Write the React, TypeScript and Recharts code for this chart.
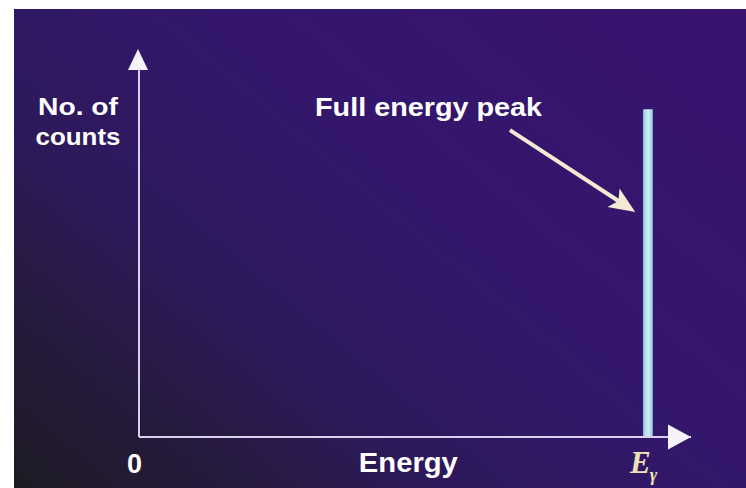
import React from 'react';
import { ComposedChart, Bar, XAxis, YAxis, ReferenceLine, ReferenceDot } from 'recharts';

// the spectrum: one full energy peak at E-gamma
const peakEnergy = [92.2];
const peakCounts = [84.5];
const energyRange = [0, 100];
const countRange = [0, 100];

// texts
const yTitle = ['No. of', 'counts'];
const xTitle = 'Energy';
const tickLabels = ['0', 'E', 'γ'];
const peakNote = 'Full energy peak';

const data = peakEnergy.map((e, i) => ({ energy: e, counts: peakCounts[i] }));

const W = 746;
const H = 488;
const sans = '"Liberation Sans", Arial, sans-serif';
const serif = '"Liberation Serif", "Times New Roman", serif';
const axisColor = '#d8d0ec';
const headColor = '#f5f2fc';
const cream = '#f3ead3';

const UpHead = ({ cx, cy }: any) => (
  <path d={`M${cx - 1},${cy} L${cx - 11},${cy + 21} L${cx + 9},${cy + 21} Z`} fill={headColor} />
);

const RightHead = ({ cx, cy }: any) => (
  <path d={`M${cx},${cy} L${cx - 23},${cy - 12.5} L${cx - 23},${cy + 12.5} Z`} fill={headColor} />
);

const Pointer = ({ x1, y1, x2, y2 }: any) => {
  const ang = Math.atan2(y2 - y1, x2 - x1);
  const len = 26;
  const half = 11;
  const bx = x2 - len * Math.cos(ang);
  const by = y2 - len * Math.sin(ang);
  const px = -Math.sin(ang) * half;
  const py = Math.cos(ang) * half;
  const nx = x2 - (len - 6) * Math.cos(ang);
  const ny = y2 - (len - 6) * Math.sin(ang);
  return (
    <g>
      <line x1={x1} y1={y1} x2={nx} y2={ny} stroke={cream} strokeWidth={4} />
      <path d={`M${x2},${y2} L${bx + px},${by + py} L${nx},${ny} L${bx - px},${by - py} Z`} fill={cream} />
    </g>
  );
};

const textShape = (value: string, size: number, width?: number, anchor: string = 'middle', fill: string = '#ffffff') =>
  (props: any) => (
    <text
      x={props.cx}
      y={props.cy}
      fill={fill}
      fontFamily={sans}
      fontWeight="bold"
      fontSize={size}
      textAnchor={anchor}
      textLength={width}
      lengthAdjust="spacingAndGlyphs"
    >
      {value}
    </text>
  );

const GammaTick = (props: any) => (
  <text x={props.cx} y={props.cy} fill="#efe1b6" fontFamily={serif} fontStyle="italic" fontWeight="bold" fontSize={31}>
    {tickLabels[1]}
    <tspan fontSize={18} dy={8} dx={-1}>{tickLabels[2]}</tspan>
  </text>
);

export default function App() {
  return (
    <div style={{ position: 'absolute', left: 0, top: 0, width: W, height: H, background: '#ffffff' }}>
      <div
        style={{
          position: 'absolute',
          left: 14,
          top: 9,
          width: W - 14,
          height: H - 9,
          background:
            'linear-gradient(40deg, #1d1b24 0%, #251a3a 15%, #2d195a 33%, #33176b 55%, #381370 100%)',
        }}
      />
      <div style={{ position: 'absolute', left: 0, top: 0 }}>
        <ComposedChart width={W} height={H} data={data} margin={{ top: 49, right: 55, bottom: 51, left: 139 }}>
          <defs>
            <linearGradient id="peakFill" x1="0" y1="0" x2="1" y2="0">
              <stop offset="0%" stopColor="#7aa8d2" />
              <stop offset="20%" stopColor="#b2dcec" />
              <stop offset="55%" stopColor="#cdeef4" />
              <stop offset="85%" stopColor="#aad6e8" />
              <stop offset="100%" stopColor="#7099c6" />
            </linearGradient>
          </defs>
          <XAxis dataKey="energy" type="number" domain={energyRange} hide />
          <YAxis type="number" domain={countRange} hide />

          <ReferenceLine
            segment={[{ x: 0, y: 0 }, { x: 100, y: 0 }]}
            stroke={axisColor}
            strokeWidth={2}
            ifOverflow="visible"
          />
          <ReferenceLine
            segment={[{ x: 0, y: 0 }, { x: 0, y: 96 }]}
            stroke={axisColor}
            strokeWidth={2}
            ifOverflow="visible"
          />

          <Bar dataKey="counts" barSize={10} fill="url(#peakFill)" isAnimationActive={false} />

          <ReferenceDot x={0} y={100} r={0} ifOverflow="visible" shape={UpHead} />
          <ReferenceDot x={100} y={0} r={0} ifOverflow="visible" shape={RightHead} />

          <ReferenceLine
            segment={[{ x: 67.2, y: 79.1 }, { x: 89.9, y: 58.0 }]}
            ifOverflow="visible"
            shape={Pointer}
          />

          <ReferenceDot x={52.45} y={82.7} r={0} ifOverflow="visible" shape={textShape(peakNote, 26, 227)} />
          <ReferenceDot x={-11.05} y={83.0} r={0} ifOverflow="visible" shape={textShape(yTitle[0], 24, 80)} />
          <ReferenceDot x={-11.05} y={75.3} r={0} ifOverflow="visible" shape={textShape(yTitle[1], 24, 85)} />
          <ReferenceDot x={48.8} y={-9.0} r={0} ifOverflow="visible" shape={textShape(xTitle, 28, 99)} />
          <ReferenceDot x={-0.8} y={-9.3} r={0} ifOverflow="visible" shape={textShape(tickLabels[0], 28, 15)} />
          <ReferenceDot x={88.95} y={-9.3} r={0} ifOverflow="visible" shape={GammaTick} />
        </ComposedChart>
      </div>
    </div>
  );
}
